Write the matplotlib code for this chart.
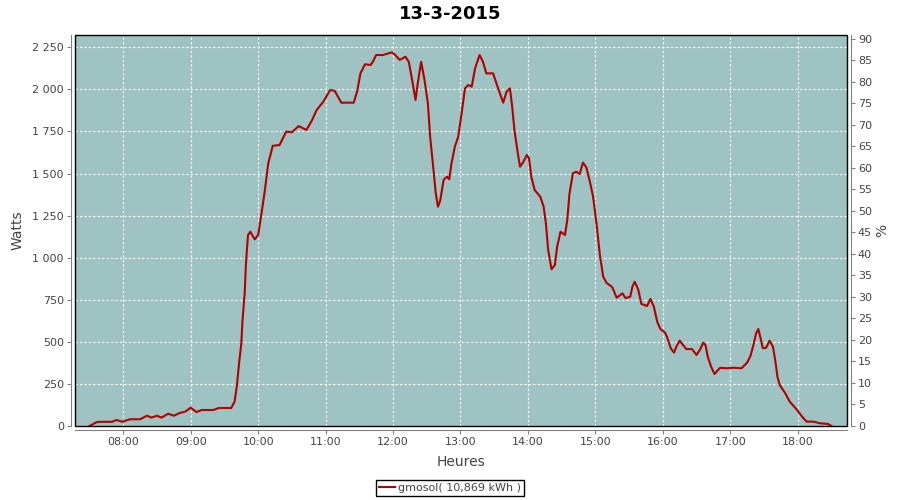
import matplotlib
matplotlib.use("Agg")
import matplotlib.pyplot as plt
from matplotlib.patches import Rectangle
from matplotlib.ticker import FixedLocator, FuncFormatter

plt.rcParams["font.family"] = ["DejaVu Sans"]

# ======================
# Production gmosol du 13-3-2015
# ======================
heures = [
    "07:30", "07:36", "07:39", "07:50", "07:54", "07:59", "08:06", "08:15", "08:21", "08:25",
    "08:30", "08:34", "08:40", "08:45", "08:50", "08:55", "09:00", "09:05", "09:10", "09:20",
    "09:25", "09:36", "09:39", "09:41", "09:43", "09:45", "09:46", "09:48", "09:49", "09:50",
    "09:51", "09:53", "09:57", "10:00", "10:03", "10:06", "10:09", "10:13", "10:19", "10:25",
    "10:30", "10:36", "10:39", "10:43", "10:48", "10:52", "10:58", "11:04", "11:08", "11:14",
    "11:25", "11:28", "11:31", "11:35", "11:40", "11:42", "11:45", "11:51", "11:59", "12:02",
    "12:06", "12:11", "12:14", "12:17", "12:20", "12:22", "12:25", "12:28", "12:31", "12:33",
    "12:36", "12:38", "12:40", "12:42", "12:45", "12:48", "12:50", "12:52", "12:55", "12:58",
    "13:01", "13:04", "13:07", "13:10", "13:13", "13:17", "13:20", "13:23", "13:29", "13:34",
    "13:38", "13:41", "13:44", "13:46", "13:48", "13:51", "13:53", "13:56", "13:59", "14:01",
    "14:03", "14:06", "14:11", "14:14", "14:16", "14:18", "14:21", "14:24", "14:26", "14:29",
    "14:33", "14:35", "14:37", "14:40", "14:43", "14:46", "14:49", "14:52", "14:55", "14:58",
    "15:01", "15:04", "15:07", "15:10", "15:15", "15:19", "15:24", "15:27", "15:31", "15:33",
    "15:35", "15:38", "15:41", "15:46", "15:49", "15:52", "15:55", "15:58", "16:02", "16:04",
    "16:07", "16:10", "16:12", "16:15", "16:18", "16:21", "16:26", "16:30", "16:33", "16:36",
    "16:38", "16:40", "16:43", "16:46", "16:51", "16:57", "17:03", "17:10", "17:15", "17:18",
    "17:21", "17:23", "17:25", "17:27", "17:29", "17:32", "17:35", "17:38", "17:40", "17:42",
    "17:44", "17:49", "17:53", "17:59", "18:04", "18:08", "18:14", "18:20", "18:27", "18:30",
]
watts = [
    0, 22, 25, 25, 36, 25, 40, 40, 61, 50,
    61, 50, 73, 61, 77, 85, 109, 83, 95, 95,
    107, 107, 144, 234, 372, 491, 620, 788, 946, 1046,
    1135, 1154, 1109, 1135, 1264, 1402, 1561, 1665, 1669, 1749,
    1745, 1782, 1772, 1759, 1818, 1877, 1927, 1996, 1992, 1921,
    1921, 1986, 2095, 2149, 2145, 2164, 2204, 2204, 2220, 2204,
    2175, 2194, 2164, 2056, 1937, 2036, 2164, 2056, 1917, 1719,
    1521, 1382, 1303, 1340, 1462, 1481, 1466, 1561, 1660, 1719,
    1858, 2006, 2026, 2016, 2125, 2204, 2164, 2095, 2095, 1996,
    1921, 1986, 2006, 1897, 1759, 1620, 1541, 1570, 1610, 1590,
    1481, 1402, 1362, 1303, 1204, 1046, 931, 957, 1065, 1154,
    1135, 1224, 1382, 1501, 1511, 1497, 1565, 1536, 1455, 1362,
    1204, 1016, 887, 850, 825, 762, 788, 760, 768, 828,
    857, 813, 725, 713, 755, 710, 620, 575, 555, 525,
    462, 436, 471, 507, 481, 457, 457, 422, 452, 495,
    481, 412, 352, 309, 346, 343, 346, 343, 376, 416,
    491, 551, 576, 521, 462, 465, 507, 471, 392, 293,
    244, 194, 144, 99, 55, 26, 26, 16, 12, 0,
]
watt_ticks = list(range(0, 2500, 250))
pct_ticks = list(range(0, 95, 5))
hour_ticks = list(range(8, 19))


def en_heures(s):
    h, m = s.split(":")
    return int(h) + int(m) / 60


x = [en_heures(s) for s in heures]

gris = "#808080"
texte = "#444444"

fig = plt.figure(figsize=(9, 5), dpi=100)
ax = fig.add_axes([75 / 900, 74 / 500, 771.7 / 900, 391 / 500])
ax.set_facecolor("#9fc3c2")
ax.plot(x, watts, color="#b00000", lw=1.5, label="gmosol( 10,869 kWh )", zorder=3)

ax.set_xlim(7.284, 18.727)
ax.set_ylim(0, 2323)
ax.xaxis.set_major_locator(FixedLocator(hour_ticks))
ax.xaxis.set_major_formatter(FuncFormatter(lambda v, p: f"{int(round(v)):02d}:00"))
ax.yaxis.set_major_locator(FixedLocator(watt_ticks))
ax.yaxis.set_major_formatter(FuncFormatter(lambda v, p: f"{int(v):,}".replace(",", " ")))
ax.grid(True, color="white", linestyle=(0, (2, 2)), linewidth=0.8)
ax.set_axisbelow(True)

# axes décalées, gris, comme JFreeChart
for side in ["top", "right"]:
    ax.spines[side].set_visible(False)
for side in ["left", "bottom"]:
    ax.spines[side].set_position(("outward", 3))
    ax.spines[side].set_color(gris)
ax.tick_params(axis="both", direction="out", length=3, width=0.8, color=gris,
               labelcolor=texte, labelsize=8, pad=2)

ax.set_ylabel("Watts", fontsize=10, color=texte)
ax.yaxis.set_label_coords(-0.065, 0.5)
ax.set_xlabel("Heures", fontsize=10, color=texte)
ax.xaxis.set_label_coords(0.5, -0.074)

# axe de droite en %
ax2 = ax.twinx()
ax2.set_ylim(0, 90.93)
ax2.yaxis.set_major_locator(FixedLocator(pct_ticks))
for side in ["top", "left", "bottom"]:
    ax2.spines[side].set_visible(False)
ax2.spines["right"].set_position(("outward", 3))
ax2.spines["right"].set_color(gris)
ax2.tick_params(axis="y", direction="out", length=3, width=0.8, color=gris,
                labelcolor=texte, labelsize=8, pad=2)
ax2.set_ylabel("%", fontsize=10, color=texte)
ax2.yaxis.set_label_coords(1.037, 0.5)

# cadre noir de la zone de tracé
ax.add_patch(Rectangle((0, 0), 1, 1, transform=ax.transAxes, fill=False,
                       ec="black", lw=1, clip_on=False, zorder=5))

fig.text(0.5, 0.972, "13-3-2015", ha="center", va="center", fontsize=13, fontweight="bold")

leg = fig.legend(loc="center", bbox_to_anchor=(0.5, 0.024), fontsize=8, fancybox=False,
                 framealpha=1, edgecolor="black", handlelength=1.4, handletextpad=0.3,
                 borderpad=0.25, borderaxespad=0)
leg.get_frame().set_linewidth(1)
for t in leg.get_texts():
    t.set_color(texte)

fig.savefig("out.png", dpi=100)
